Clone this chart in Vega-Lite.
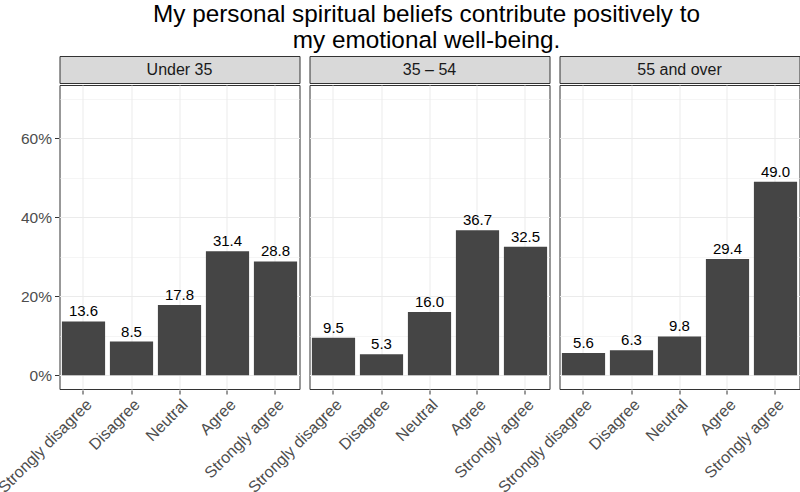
{
  "$schema": "https://vega.github.io/schema/vega-lite/v6.json",
  "background": "white",
  "padding": {"left": -5.5, "top": 3, "right": 2, "bottom": 0},
  "title": {
    "text": ["My personal spiritual beliefs contribute positively to", "my emotional well-being."],
    "fontSize": 24.3,
    "fontWeight": "normal",
    "font": "Liberation Sans",
    "color": "#000000",
    "anchor": "start",
    "align": "center",
    "dx": 367,
    "frame": "group",
    "lineHeight": 26,
    "offset": 2
  },
  "config": {
    "font": "Liberation Sans",
    "view": {"stroke": "#333333", "strokeWidth": 1},
    "axis": {
      "labelFont": "Liberation Sans",
      "labelFontSize": 15.5,
      "labelColor": "#4d4d4d",
      "tickColor": "#333333",
      "tickSize": 4,
      "domain": false,
      "gridColor": "#ebebeb",
      "title": null
    }
  },
  "datasets": {
    "groups": [
      {"group": "Under 35"},
      {"group": "35 – 54"},
      {"group": "55 and over"}
    ],
    "responses": [
      {"group": "Under 35", "resp": "Strongly disagree", "pct": 13.6},
      {"group": "Under 35", "resp": "Disagree", "pct": 8.5},
      {"group": "Under 35", "resp": "Neutral", "pct": 17.8},
      {"group": "Under 35", "resp": "Agree", "pct": 31.4},
      {"group": "Under 35", "resp": "Strongly agree", "pct": 28.8},
      {"group": "35 – 54", "resp": "Strongly disagree", "pct": 9.5},
      {"group": "35 – 54", "resp": "Disagree", "pct": 5.3},
      {"group": "35 – 54", "resp": "Neutral", "pct": 16.0},
      {"group": "35 – 54", "resp": "Agree", "pct": 36.7},
      {"group": "35 – 54", "resp": "Strongly agree", "pct": 32.5},
      {"group": "55 and over", "resp": "Strongly disagree", "pct": 5.6},
      {"group": "55 and over", "resp": "Disagree", "pct": 6.3},
      {"group": "55 and over", "resp": "Neutral", "pct": 9.8},
      {"group": "55 and over", "resp": "Agree", "pct": 29.4},
      {"group": "55 and over", "resp": "Strongly agree", "pct": 49.0}
    ]
  },
  "spacing": 0,
  "vconcat": [
    {
      "data": {"name": "groups"},
      "facet": {"column": {"field": "group", "type": "nominal", "sort": ["Under 35", "35 – 54", "55 and over"], "header": null}},
      "spacing": 8,
      "spec": {
        "width": 240,
        "height": 27,
        "view": {"fill": "#d9d9d9", "stroke": "#333333"},
        "mark": {"type": "text", "fontSize": 16, "color": "#1a1a1a", "font": "Liberation Sans", "baseline": "middle"},
        "encoding": {
          "text": {"field": "group", "type": "nominal"},
          "y": {
            "datum": 0,
            "type": "quantitative",
            "scale": {"domain": [-1, 1], "nice": false},
            "axis": {"values": [0], "labelExpr": "'60%'", "labelColor": "transparent", "tickColor": "transparent", "grid": false, "labelPadding": 3}
          }
        }
      }
    },
    {
      "data": {"name": "responses"},
      "facet": {"column": {"field": "group", "type": "nominal", "sort": ["Under 35", "35 – 54", "55 and over"], "header": null}},
      "spacing": 8,
      "spec": {
        "width": 240,
        "height": 304,
        "view": {"fill": "white", "stroke": "#333333"},
        "encoding": {
          "x": {
            "field": "resp",
            "type": "nominal",
            "sort": ["Strongly disagree", "Disagree", "Neutral", "Agree", "Strongly agree"],
            "scale": {"paddingInner": 0.1, "paddingOuter": 0.05},
            "axis": {"labelAngle": -45, "labelAlign": "right", "labelBaseline": "top", "bandPosition": 0.5, "grid": true, "gridWidth": 1, "labelPadding": 2, "labelFontSize": 16}
          },
          "y": {
            "field": "pct",
            "type": "quantitative",
            "scale": {"domain": [-3.5, 73.5], "nice": false, "zero": false},
            "axis": {
              "values": [0, 10, 20, 30, 40, 50, 60, 70],
              "labelExpr": "datum.value % 20 == 0 ? datum.value + '%' : ''",
              "grid": true,
              "gridWidth": {"condition": {"test": "datum.value % 20 == 0", "value": 1}, "value": 0.5},
              "tickOpacity": {"condition": {"test": "datum.value % 20 == 0", "value": 1}, "value": 0},
              "labelPadding": 3
            }
          }
        },
        "layer": [
          {"mark": {"type": "bar", "color": "#454545"}},
          {
            "mark": {"type": "text", "fontSize": 15, "color": "#000000", "baseline": "alphabetic", "dy": -5, "font": "Liberation Sans"},
            "encoding": {"text": {"field": "pct", "type": "quantitative", "format": ".1f"}}
          }
        ]
      }
    }
  ]
}
